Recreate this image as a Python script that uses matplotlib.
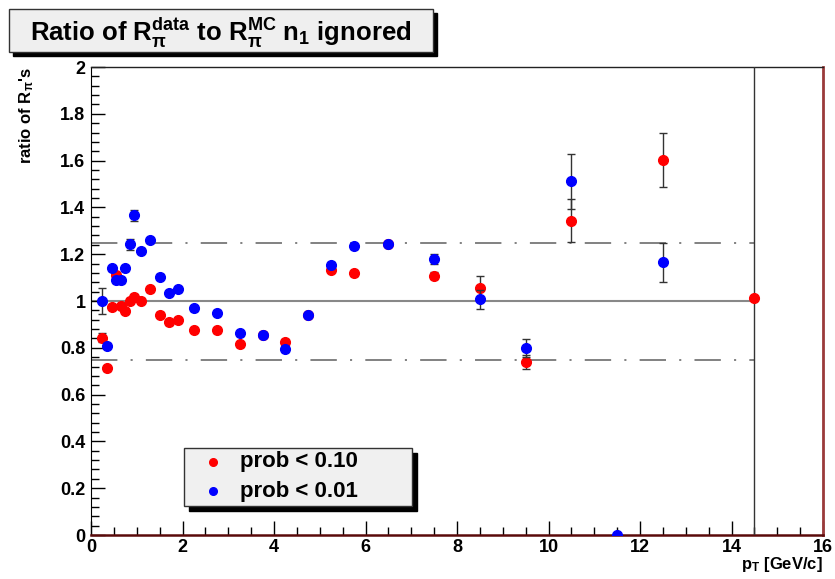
import numpy as np
import matplotlib
matplotlib.use("Agg")
import matplotlib.pyplot as plt
from matplotlib.patches import Rectangle

plt.rcParams['font.family'] = ['Liberation Sans', 'DejaVu Sans']
plt.rcParams['font.weight'] = 'bold'
plt.rcParams['mathtext.fontset'] = 'custom'
plt.rcParams['mathtext.rm'] = 'Liberation Sans:bold'
plt.rcParams['mathtext.it'] = 'Liberation Sans:bold'
plt.rcParams['mathtext.bf'] = 'Liberation Sans:bold'
plt.rcParams['lines.scale_dashes'] = False

# ---- data ----
pt = [0.25, 0.35, 0.45, 0.55, 0.65, 0.75, 0.85, 0.95, 1.1, 1.3, 1.5, 1.7, 1.9,
      2.25, 2.75, 3.25, 3.75, 4.25, 4.75, 5.25, 5.75, 6.5, 7.5, 8.5, 9.5,
      10.5, 11.5, 12.5, 14.5]
ratio_p10 = [0.843, 0.712, 0.974, 1.112, 0.979, 0.957, 1.001, 1.018, 1.001, 1.05,
             0.941, 0.909, 0.917, 0.876, 0.875, 0.815, 0.856, 0.826, 0.94, 1.132,
             1.118, 1.244, 1.108, 1.057, 0.739, 1.343, np.nan, 1.604, 1.014]
err_p10 = [0.02, 0.01, 0.01, 0.01, 0.01, 0.01, 0.01, 0.01, 0.01, 0.01,
           0.01, 0.01, 0.01, 0.01, 0.01, 0.01, 0.01, 0.01, 0.01, 0.01,
           0.01, 0.01, 0.015, 0.05, 0.03, 0.092, 0.0, 0.115, 1.5]
ratio_p01 = [1.0, 0.809, 1.14, 1.088, 1.088, 1.14, 1.242, 1.366, 1.215, 1.259,
             1.104, 1.034, 1.05, 0.969, 0.95, 0.862, 0.856, 0.794, 0.94, 1.155,
             1.234, 1.244, 1.18, 1.007, 0.799, 1.511, 0.0, 1.165, np.nan]
err_p01 = [0.055, 0.01, 0.01, 0.01, 0.01, 0.01, 0.025, 0.025, 0.01, 0.01,
           0.01, 0.01, 0.01, 0.01, 0.01, 0.01, 0.01, 0.01, 0.01, 0.01,
           0.01, 0.01, 0.02, 0.04, 0.04, 0.117, 0.0, 0.085, 0.0]
ref_levels = [0.75, 1.0, 1.25]
ref_xmax = 14.5
labels = ["prob < 0.10", "prob < 0.01"]
ytick_vals = [0, 0.2, 0.4, 0.6, 0.8, 1.0, 1.2, 1.4, 1.6, 1.8, 2.0]
ytick_labels = ["0", "0.2", "0.4", "0.6", "0.8", "1", "1.2", "1.4", "1.6", "1.8", "2"]
xtick_vals = [0, 2, 4, 6, 8, 10, 12, 14, 16]

W, H = 835, 579
fig = plt.figure(figsize=(W / 100, H / 100), dpi=100)
ax = fig.add_axes([91 / W, 1 - 535 / H, (823 - 91) / W, (535 - 67) / H])

# reference lines
ax.plot([0, ref_xmax], [ref_levels[1]] * 2, color='#888888', lw=1.5, zorder=1)
for lv in (ref_levels[0], ref_levels[2]):
    ax.plot([0, ref_xmax], [lv] * 2, color='#777777', lw=1.3,
            dashes=[19, 9.5, 1.5, 9.5], zorder=1)

ms = 7
ax.errorbar(pt, ratio_p10, yerr=err_p10, fmt='o', color='#ff0000', ms=ms,
            ecolor='#333333', elinewidth=1, capsize=3, capthick=1, zorder=3,
            label=labels[0])
ax.errorbar(pt, ratio_p01, yerr=err_p01, fmt='o', color='#0000ff', ms=ms,
            ecolor='#333333', elinewidth=1, capsize=3, capthick=1, zorder=4,
            label=labels[1])

ax.set_xlim(0, 16)
ax.set_ylim(0, 2)
ax.set_xticks(xtick_vals)
ax.set_xticks(np.arange(0, 16.01, 0.5), minor=True)
ax.set_yticks(ytick_vals)
ax.set_yticklabels(ytick_labels)
ax.set_yticks(np.arange(0, 2.001, 0.04), minor=True)
ax.tick_params(axis='both', which='major', direction='in', length=10, width=1,
               labelsize=13, colors='black')
ax.tick_params(axis='both', which='minor', direction='in', length=5.5, width=1)
ax.tick_params(axis='x', pad=3)
ax.tick_params(axis='y', pad=4)
ax.tick_params(top=False, right=False, which='both')
for lab in ax.get_xticklabels() + ax.get_yticklabels():
    lab.set_fontweight('bold')

ax.spines['left'].set_color('black')
ax.spines['top'].set_color('#222222')
ax.spines['top'].set_linewidth(1)
ax.spines['bottom'].set_color('#5a0a0a')
ax.spines['bottom'].set_linewidth(1.8)
ax.spines['right'].set_color('#9a3a3a')
ax.spines['right'].set_linewidth(2)

# axis labels
fig.text(823 / W, 1 - 565 / H, r"p$_{\mathrm{T}}$ [GeV/c]", ha='right', va='center',
         fontsize=12, fontweight='bold')
fig.text(27 / W, 1 - 67 / H, r"ratio of R$_{\pi}$'s", ha='center', va='top',
         rotation=90, fontsize=12, fontweight='bold')

# title box
fig.patches.append(Rectangle((13 / W, 1 - 56 / H), (433 - 9) / W, (52 - 9) / H,
                             transform=fig.transFigure, facecolor='black',
                             edgecolor='black', zorder=0))
fig.patches.append(Rectangle((9 / W, 1 - 52 / H), (433 - 9) / W, (52 - 9) / H,
                             transform=fig.transFigure, facecolor='#efefef',
                             edgecolor='#333333', lw=1, zorder=1))
fig.text(221 / W, 1 - 33 / H,
         r"Ratio of R$_{\pi}^{\mathrm{data}}$ to R$_{\pi}^{\mathrm{MC}}$ n$_{1}$ ignored",
         ha='center', va='center', fontsize=18.5, fontweight='bold', zorder=2)

# legend box
fig.patches.append(Rectangle((189 / W, 1 - 511 / H), (412 - 184) / W, (506 - 448) / H,
                             transform=fig.transFigure, facecolor='black',
                             edgecolor='black', zorder=5))
fig.patches.append(Rectangle((184 / W, 1 - 506 / H), (412 - 184) / W, (506 - 448) / H,
                             transform=fig.transFigure, facecolor='#f0f0f0',
                             edgecolor='#333333', lw=1, zorder=6))
for yy, col, lab in ((462, '#ff0000', labels[0]), (491, '#0000ff', labels[1])):
    fig.lines.append(plt.Line2D([213 / W], [1 - yy / H], marker='o', color=col,
                                ms=5.5, transform=fig.transFigure, zorder=7))
    fig.text(240 / W, 1 - yy / H, lab, ha='left', va='center', fontsize=16,
             fontweight='bold', zorder=7)

fig.savefig("out.png", dpi=100, facecolor='white')
